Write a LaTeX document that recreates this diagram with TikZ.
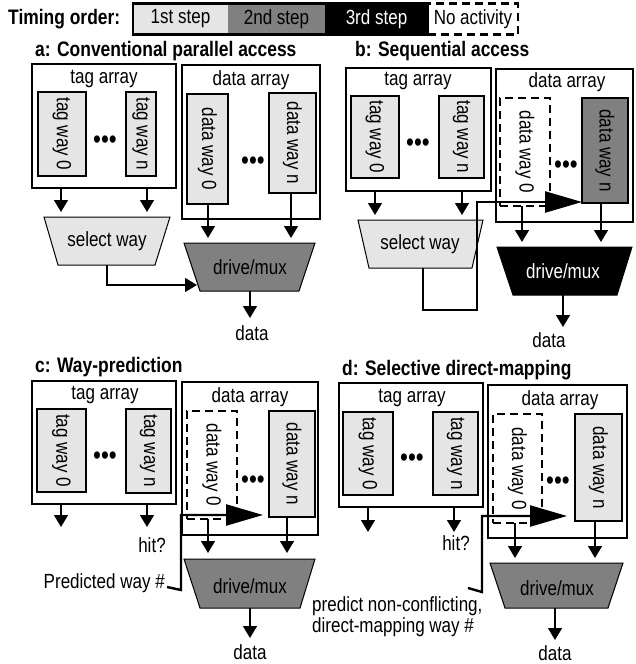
\documentclass[tikz,border=0pt]{standalone}
\usepackage{fontspec}
\setmainfont{Liberation Sans}[FakeStretch=0.83]
\usetikzlibrary{arrows.meta}
\definecolor{lg}{gray}{0.9}
\definecolor{dg}{gray}{0.5}
\begin{document}
\begin{tikzpicture}[x=1pt,y=-1pt,
  txt/.style={font=\fontsize{20.5}{21}\selectfont, inner sep=0pt},
  ttl/.style={font=\fontsize{21}{22}\selectfont\bfseries, inner sep=0pt, anchor=west},
  outer/.style={draw, line width=1.6pt, inner sep=0pt, outer sep=0pt},
  way/.style={draw, line width=1.8pt, fill=lg, inner sep=0pt, outer sep=0pt},
  wayoff/.style={draw, line width=1.6pt, dash pattern=on 8pt off 5pt, fill=white, inner sep=0pt, outer sep=0pt},
  waydark/.style={way, fill=dg},
  rtxt/.style={txt, rotate=-90},
  dotsty/.style={inner sep=0pt, font=\fontsize{27}{27}\selectfont},
  arr/.style={line width=1.5pt, -{Triangle[width=14pt,length=12pt]}},
  big/.style={line width=2.4pt, line join=miter, -{Triangle[width=21pt,length=37pt]}},
  trap/.style={draw, line width=1pt},
  legfill/.style={inner sep=0pt, minimum height=31pt, font=\fontsize{20.5}{21}\selectfont},
]
\useasboundingbox (0,0) rectangle (636,664);

% ---------- legend ----------
\node[ttl] (lgT) at (8,19) {Timing order:};
\node[legfill, fill=lg, minimum width=95pt] (l1) at (180.5,19) {1st step};
\node[legfill, fill=dg, minimum width=97pt] (l2) at (276.5,19) {2nd step};
\node[legfill, fill=black, text=white, minimum width=103pt] (l3) at (376.5,19) {3rd step};
\node[draw, line width=2.5pt, inner sep=0pt, minimum width=295pt, minimum height=31pt] (lbox) at (280.5,19) {};
\node[legfill, draw, line width=2.2pt, dash pattern=on 8pt off 5pt, minimum width=90pt] (l4) at (473,19) {No activity};

% ---------- panel a ----------
\node[ttl] (tA) at (35,51) {a: Conventional parallel access};
\node[outer, minimum width=144pt, minimum height=124pt] (tagA) at (104,126) {};
\node[txt] (tagAl) at (104,79) {tag array};
\node[way, minimum width=48pt, minimum height=84pt] (tw0A) at (62,134) {};
\node[rtxt] (tw0At) at (tw0A) {tag way 0};
\node[way, minimum width=30pt, minimum height=84pt] (twnA) at (141,134) {};
\node[rtxt] (twnAt) at (twnA) {tag way n};
\node[dotsty] (dA1) at (105,142) {•••};
\node[outer, minimum width=138pt, minimum height=154pt] (dataA) at (251,142) {};
\node[txt] (dataAl) at (251,80) {data array};
\node[way, minimum width=41pt, minimum height=110pt] (dw0A) at (207.5,149) {};
\node[rtxt] (dw0At) at (dw0A) {data way 0};
\node[way, minimum width=47pt, minimum height=100pt] (dwnA) at (292.5,143) {};
\node[rtxt] (dwnAt) at (dwnA) {data way n};
\node[dotsty] (dA2) at (253,163) {•••};
\draw[trap, fill=lg] (44,217) -- (170,217) -- (155,265) -- (58,265) -- cycle;
\node[txt] (selA) at (107,241) {select way};
\draw[trap, fill=dg] (184,243) -- (315,243) -- (299,291) -- (200,291) -- cycle;
\node[txt] (muxA) at (250,267) {drive/mux};
\coordinate (aT1) at (61,212);
\coordinate (aT2) at (147,212);
\draw[arr] (aT1 |- tagA.south) -- (aT1);
\draw[arr] (aT2 |- tagA.south) -- (aT2);
\coordinate (aD1) at (208,238);
\coordinate (aD2) at (291,238);
\draw[arr] (aD1 |- dw0A.south) -- (aD1);
\draw[arr] (aD2 |- dwnA.south) -- (aD2);
\coordinate (aS) at (107,265);
\coordinate (aM) at (197,285);
\draw[arr] (aS) |- (aM);
\coordinate (aO1) at (250,291);
\coordinate (aO2) at (250,318);
\draw[arr] (aO1) -- (aO2);
\node[txt] (datA) at (252,333) {data};

% ---------- panel b ----------
\node[ttl] (tB) at (355,51) {b: Sequential access};
\node[outer, minimum width=145pt, minimum height=123pt] (tagB) at (418.5,129.5) {};
\node[txt] (tagBl) at (418,81) {tag array};
\node[way, minimum width=48pt, minimum height=82pt] (tw0B) at (375,137) {};
\node[rtxt] (tw0Bt) at (tw0B) {tag way 0};
\node[way, minimum width=45pt, minimum height=82pt] (twnB) at (461.5,137) {};
\node[rtxt] (twnBt) at (twnB) {tag way n};
\node[dotsty] (dB1) at (418,145) {•••};
\node[outer, minimum width=137pt, minimum height=153pt] (dataB) at (564.5,145.5) {};
\node[txt] (dataBl) at (567,82) {data array};
\node[wayoff, minimum width=50pt, minimum height=108pt] (dw0B) at (525,152) {};
\node[rtxt] (dw0Bt) at (dw0B) {data way 0};
\node[waydark, minimum width=46pt, minimum height=105pt] (dwnB) at (605,150.5) {};
\node[rtxt] (dwnBt) at (dwnB) {data way n};
\node[dotsty] (dB2) at (566,167) {•••};
\draw[trap, fill=lg] (358,220) -- (483,220) -- (472,268) -- (369,268) -- cycle;
\node[txt] (selB) at (420,244) {select way};
\draw[trap, fill=black] (497,247) -- (632,247) -- (617,295) -- (513,295) -- cycle;
\node[txt, text=white] (muxB) at (563,271) {drive/mux};
\coordinate (bT1) at (375,215);
\coordinate (bT2) at (462,215);
\draw[arr] (bT1 |- tagB.south) -- (bT1);
\draw[arr] (bT2 |- tagB.south) -- (bT2);
\coordinate (bS) at (423,268);
\coordinate (bTip) at (582,202);
\draw[big] (bS) -- (423,310) -- (477,310) -- (477,202) -- (bTip);
\coordinate (bD1) at (522,242);
\coordinate (bD2) at (601,242);
\draw[arr] (bD1 |- dw0B.south) -- (bD1);
\draw[arr] (bD2 |- dwnB.south) -- (bD2);
\coordinate (bO1) at (563,295);
\coordinate (bO2) at (563,327);
\draw[arr] (bO1) -- (bO2);
\node[txt] (datB) at (549,340) {data};

% ---------- panel c ----------
\node[ttl] (tC) at (35,367) {c: Way-prediction};
\node[outer, minimum width=144pt, minimum height=123pt] (tagC) at (104,442.5) {};
\node[txt] (tagCl) at (105,395) {tag array};
\node[way, minimum width=49pt, minimum height=83pt] (tw0C) at (61.5,450.5) {};
\node[rtxt] (tw0Ct) at (tw0C) {tag way 0};
\node[way, minimum width=45pt, minimum height=84pt] (twnC) at (148.5,451) {};
\node[rtxt] (twnCt) at (twnC) {tag way n};
\node[dotsty] (dC1) at (105,458) {•••};
\node[outer, minimum width=136pt, minimum height=153pt] (dataC) at (250,458.5) {};
\node[txt] (dataCl) at (250,397) {data array};
\node[wayoff, minimum width=50pt, minimum height=108pt] (dw0C) at (212,465) {};
\node[rtxt] (dw0Ct) at (dw0C) {data way 0};
\node[way, minimum width=46pt, minimum height=106pt] (dwnC) at (292,464) {};
\node[rtxt] (dwnCt) at (dwnC) {data way n};
\node[dotsty] (dC2) at (253,482) {•••};
\coordinate (cT1) at (61,527);
\coordinate (cT2) at (147,527);
\draw[arr] (cT1 |- tagC.south) -- (cT1);
\draw[arr] (cT2 |- tagC.south) -- (cT2);
\node[txt] (hitC) at (152,545) {hit?};
\draw[trap, fill=dg] (184,559) -- (315,559) -- (300,608) -- (200,608) -- cycle;
\node[txt] (muxC) at (250,586) {drive/mux};
\coordinate (cD1) at (208,553);
\coordinate (cD2) at (287,553);
\draw[arr] (cD1 |- dw0C.south) -- (cD1);
\draw[arr] (cD2 |- dwnC.south) -- (cD2);
\node[txt, anchor=east] (predC) at (165,583) {Predicted way \#};
\coordinate (cP) at (167,587);
\coordinate (cTip) at (263,515);
\draw[big] (cP) -- (181,590) -- (181,515) -- (cTip);
\coordinate (cO1) at (250,608);
\coordinate (cO2) at (250,638);
\draw[arr] (cO1) -- (cO2);
\node[txt] (datC) at (250,652) {data};

% ---------- panel d ----------
\node[ttl] (tD) at (342,370) {d: Selective direct-mapping};
\node[outer, minimum width=144pt, minimum height=124pt] (tagD) at (411,445) {};
\node[txt] (tagDl) at (412,398) {tag array};
\node[way, minimum width=50pt, minimum height=83pt] (tw0D) at (368,453.5) {};
\node[rtxt] (tw0Dt) at (tw0D) {tag way 0};
\node[way, minimum width=45pt, minimum height=83pt] (twnD) at (455.5,453.5) {};
\node[rtxt] (twnDt) at (twnD) {tag way n};
\node[dotsty] (dD1) at (412,460) {•••};
\node[outer, minimum width=139pt, minimum height=153pt] (dataD) at (557.5,461.5) {};
\node[txt] (dataDl) at (560,400) {data array};
\node[wayoff, minimum width=49pt, minimum height=109pt] (dw0D) at (517.5,468.5) {};
\node[rtxt] (dw0Dt) at (dw0D) {data way 0};
\node[way, minimum width=47pt, minimum height=107pt] (dwnD) at (598.5,467.5) {};
\node[rtxt] (dwnDt) at (dwnD) {data way n};
\node[dotsty] (dD2) at (558,483) {•••};
\coordinate (dT1) at (368,532);
\coordinate (dT2) at (454,532);
\draw[arr] (dT1 |- tagD.south) -- (dT1);
\draw[arr] (dT2 |- tagD.south) -- (dT2);
\node[txt] (hitD) at (456,543) {hit?};
\draw[trap, fill=dg] (490,563) -- (623,563) -- (608,608) -- (505,608) -- cycle;
\node[txt] (muxD) at (557,588) {drive/mux};
\coordinate (dD1c) at (515,558);
\coordinate (dD2c) at (595,558);
\draw[arr] (dD1c |- dw0D.south) -- (dD1c);
\draw[arr] (dD2c |- dwnD.south) -- (dD2c);
\node[txt, align=left, anchor=west] (predD) at (312,617) {predict non-conflicting,\\direct-mapping way \#};
\coordinate (dP) at (468,588);
\coordinate (dTip) at (567,516);
\draw[big] (dP) -- (482,592) -- (482,516) -- (dTip);
\coordinate (dO1) at (555,608);
\coordinate (dO2) at (555,640);
\draw[arr] (dO1) -- (dO2);
\node[txt] (datD) at (555,653) {data};
\end{tikzpicture}
\end{document}
